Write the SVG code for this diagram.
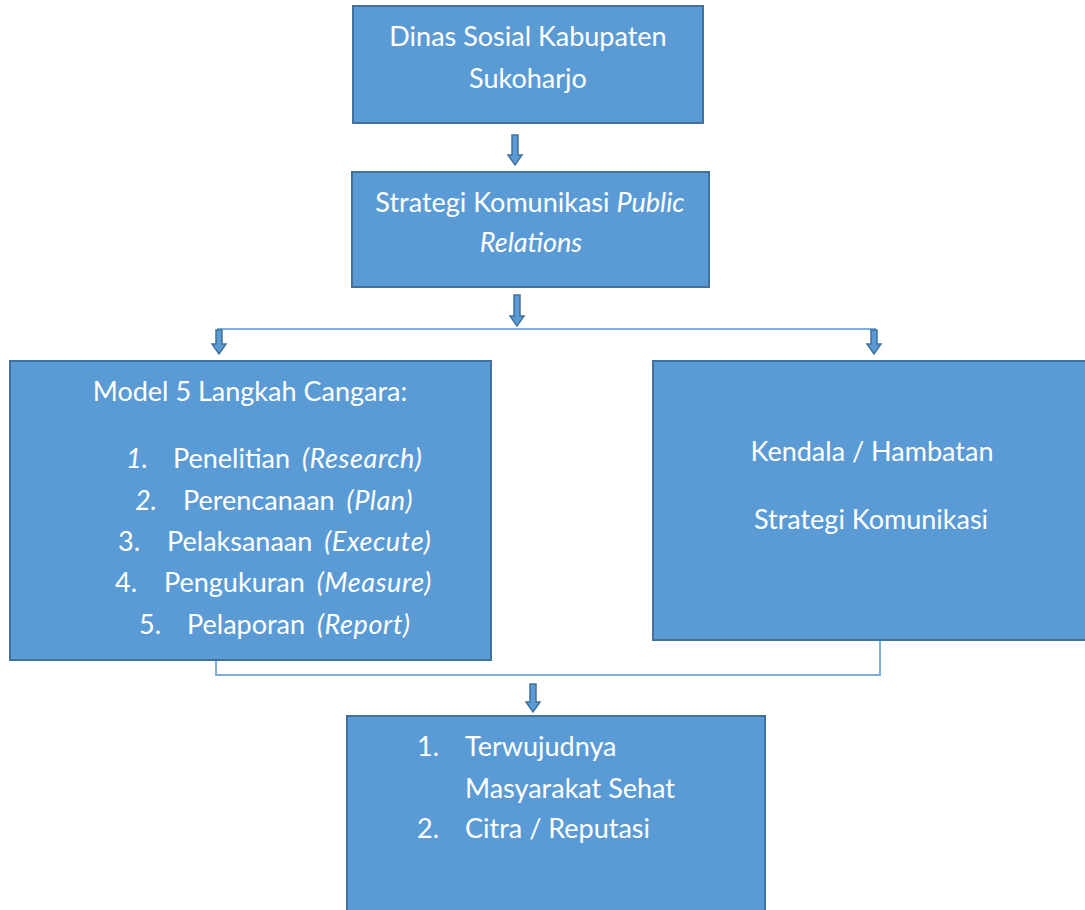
<svg xmlns="http://www.w3.org/2000/svg" width="1085" height="910" viewBox="0 0 1085 910">
<defs>
<style>
.box{fill:#5B9BD5;stroke:#41719C;stroke-width:2}
.t{font-family:Lato,"Open Sans","Liberation Sans",sans-serif;font-size:27px;fill:#FFFFFF}
.c{text-anchor:middle}
.i{font-style:italic}
.li{word-spacing:5px}
.li .i{letter-spacing:0.6px}
.line{fill:none;stroke:#7FAEDD;stroke-width:2}
.arr{fill:#5B9BD5;stroke:#41719C;stroke-width:1.5}
</style>
</defs>
<rect width="1085" height="910" fill="#FFFFFF"/>
<g id="connectors">
<path class="line" d="M217 329 H876"/>
<path class="line" d="M216 660 V675 H880 V641"/>
<path class="arr" d="M512 135 H518 V155 H522 L515 165 L508 155 H512 Z"/>
<path class="arr" d="M514 295 H520 V316 H524 L517 326 L510 316 H514 Z"/>
<path class="arr" d="M216 330 H222 V344 H226 L219 354 L212 344 H216 Z"/>
<path class="arr" d="M871 330 H877 V344 H881 L874 354 L867 344 H871 Z"/>
<path class="arr" d="M530 684 H536 V702 H540 L533 712 L526 702 H530 Z"/>
</g>
<g id="node-dinas">
<rect class="box" x="353" y="6" width="350" height="117"/>
<text class="t c" x="528" y="46">Dinas Sosial Kabupaten</text>
<text class="t c" x="528" y="88">Sukoharjo</text>
</g>
<g id="node-strategi">
<rect class="box" x="352" y="172" width="357" height="115"/>
<text class="t c" x="530" y="212">Strategi Komunikasi <tspan class="i">Public</tspan></text>
<text class="t c i" x="531" y="252">Relations</text>
</g>
<g id="node-model">
<rect class="box" x="10" y="361" width="481" height="299"/>
<text class="t c" x="250" y="401">Model 5 Langkah Cangara:</text>
<text class="t i" x="126" y="468">1.</text>
<text class="t li" x="173" y="468">Penelitian <tspan class="i">(Research)</tspan></text>
<text class="t i" x="135" y="510">2.</text>
<text class="t li" x="183" y="510">Perencanaan <tspan class="i">(Plan)</tspan></text>
<text class="t" x="118" y="551">3.</text>
<text class="t li" x="167" y="551">Pelaksanaan <tspan class="i">(Execute)</tspan></text>
<text class="t" x="115" y="592">4.</text>
<text class="t li" x="164" y="592">Pengukuran <tspan class="i">(Measure)</tspan></text>
<text class="t" x="139" y="634">5.</text>
<text class="t li" x="187" y="634">Pelaporan <tspan class="i">(Report)</tspan></text>
</g>
<g id="node-kendala">
<rect class="box" x="653" y="361" width="440" height="279"/>
<text class="t c" x="872" y="461">Kendala / Hambatan</text>
<text class="t c" x="871" y="529">Strategi Komunikasi</text>
</g>
<g id="node-hasil">
<rect class="box" x="347" y="716" width="418" height="204"/>
<text class="t" x="417" y="756">1.</text>
<text class="t" x="465" y="756">Terwujudnya</text>
<text class="t" x="465" y="798">Masyarakat Sehat</text>
<text class="t" x="417" y="838">2.</text>
<text class="t" x="465" y="838">Citra / Reputasi</text>
</g>
</svg>
